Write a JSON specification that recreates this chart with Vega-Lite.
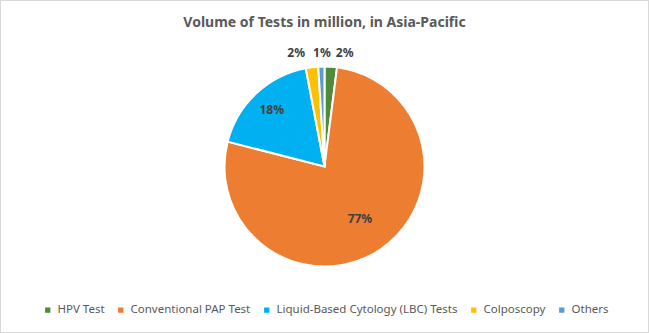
{
  "$schema": "https://vega.github.io/schema/vega-lite/v6.json",
  "width": 649,
  "height": 333,
  "padding": 0,
  "autosize": {"type": "fit", "contains": "padding"},
  "background": "white",
  "view": {"stroke": "#d9d9d9", "strokeWidth": 2, "fill": "white"},
  "config": {
    "font": "Noto Sans"
  },
  "title": {
    "text": "Volume of Tests in million, in Asia-Pacific",
    "fontSize": 14,
    "fontWeight": "bold",
    "color": "#595959",
    "font": "Noto Sans",
    "anchor": "middle",
    "offset": -30
  },
  "data": {
    "values": [
      {"category": "HPV Test", "share": 2, "rank": 1, "label": "2%"},
      {"category": "Conventional PAP Test", "share": 77, "rank": 2, "label": "77%"},
      {"category": "Liquid-Based Cytology (LBC) Tests", "share": 18, "rank": 3, "label": "18%"},
      {"category": "Colposcopy", "share": 2, "rank": 4, "label": "2%"},
      {"category": "Others", "share": 1, "rank": 5, "label": "1%"}
    ]
  },
  "encoding": {
    "theta": {"field": "share", "type": "quantitative", "stack": true},
    "order": {"field": "rank", "type": "quantitative"}
  },
  "layer": [
    {
      "mark": {"type": "arc", "outerRadius": 100, "stroke": "white", "strokeWidth": 2},
      "encoding": {
        "color": {
          "field": "category",
          "type": "nominal",
          "scale": {
            "domain": ["HPV Test", "Conventional PAP Test", "Liquid-Based Cytology (LBC) Tests", "Colposcopy", "Others"],
            "range": ["#4E8B3A", "#ED7D31", "#00B0F0", "#FFC000", "#5B9BD5"]
          },
          "legend": {
            "title": null,
            "orient": "none",
            "direction": "horizontal",
            "legendX": 42,
            "legendY": 304,
            "symbolType": "square",
            "symbolSize": 28,
            "symbolStrokeWidth": 0,
            "labelFontSize": 11.5,
            "labelColor": "#595959",
            "labelFont": "Noto Sans",
            "labelOffset": 4,
            "columnPadding": 10,
            "labelLimit": 300
          }
        }
      }
    },
    {
      "mark": {"type": "text", "radius": 63, "fontSize": 12, "fontWeight": "bold", "color": "#404040", "font": "Noto Sans"},
      "encoding": {"text": {"condition": {"test": "datum.category == 'Conventional PAP Test'", "field": "label"}, "value": ""}}
    },
    {
      "mark": {"type": "text", "radius": 77, "fontSize": 12, "fontWeight": "bold", "color": "#404040", "font": "Noto Sans"},
      "encoding": {"text": {"condition": {"test": "datum.category == 'Liquid-Based Cytology (LBC) Tests'", "field": "label"}, "value": ""}}
    },
    {
      "mark": {"type": "text", "radius": 114, "dx": 13, "fontSize": 12, "fontWeight": "bold", "color": "#404040", "font": "Noto Sans"},
      "encoding": {"text": {"condition": {"test": "datum.category == 'HPV Test'", "field": "label"}, "value": ""}}
    },
    {
      "mark": {"type": "text", "radius": 114, "dx": 1, "fontSize": 12, "fontWeight": "bold", "color": "#404040", "font": "Noto Sans"},
      "encoding": {"text": {"condition": {"test": "datum.category == 'Others'", "field": "label"}, "value": ""}}
    },
    {
      "mark": {"type": "text", "radius": 114, "dx": -14, "fontSize": 12, "fontWeight": "bold", "color": "#404040", "font": "Noto Sans"},
      "encoding": {"text": {"condition": {"test": "datum.category == 'Colposcopy'", "field": "label"}, "value": ""}}
    }
  ]
}
